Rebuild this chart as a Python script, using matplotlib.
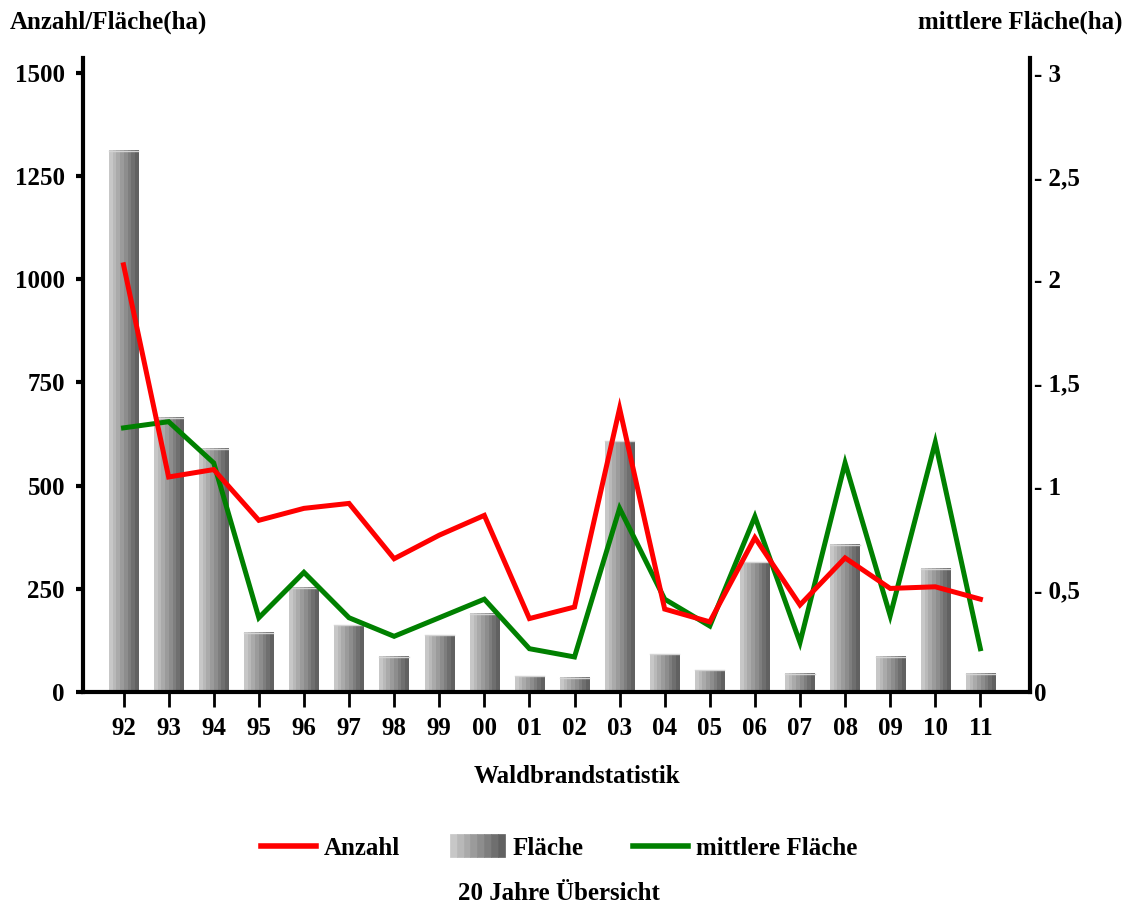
import numpy as np
import matplotlib
matplotlib.use('Agg')
import matplotlib.pyplot as plt
from matplotlib.patches import Rectangle
from matplotlib.lines import Line2D
from matplotlib.legend_handler import HandlerBase

# Waldbrandstatistik, 20 Jahre
years = ['92', '93', '94', '95', '96', '97', '98', '99', '00', '01',
         '02', '03', '04', '05', '06', '07', '08', '09', '10', '11']
flaeche = [1311, 665, 589, 143, 252, 162, 85, 138, 190, 38,
           34, 608, 91, 53, 314, 44, 357, 86, 299, 44]
anzahl = [1035, 521, 539, 416, 445, 457, 323, 380, 428, 178,
          206, 687, 201, 170, 374, 211, 325, 251, 255, 225]
mittlere = [1.28, 1.31, 1.11, 0.36, 0.58, 0.36, 0.27, 0.36, 0.45, 0.21,
            0.17, 0.89, 0.45, 0.32, 0.85, 0.24, 1.11, 0.37, 1.21, 0.21]

left_ticks = [0, 250, 500, 750, 1000, 1250, 1500]
right_ticks = [0, 0.5, 1, 1.5, 2, 2.5, 3]
right_labels = ['0', '- 0,5', '- 1', '- 1,5', '- 2', '- 2,5', '- 3']

plt.rcParams['font.family'] = 'Liberation Serif'
plt.rcParams['font.weight'] = 'bold'
FS = 18

# stepped gray gradient, light left -> dark right
grad = np.linspace(0.78, 0.38, 8).reshape(1, -1)

fig = plt.figure(figsize=(11.41, 9.07), dpi=100)
ax = fig.add_axes([0.0727, 0.2370, 0.8300, 0.6990])
x = np.arange(len(years))

bars = ax.bar(x, flaeche, width=0.65, color='none', edgecolor='none')
for r in bars:
    x0, w, h = r.get_x(), r.get_width(), r.get_height()
    ax.imshow(grad, cmap='gray', vmin=0, vmax=1, aspect='auto',
              interpolation='nearest', extent=(x0, x0 + w, 0, h), zorder=2)
    ax.plot([x0, x0 + w], [h, h], color='#d4d4d4', lw=1, zorder=2.5)

ax.set_xlim(-0.9, 20.1)
ax.set_ylim(0, 1536)
ax.set_xticks(x)
ax.set_xticklabels(years, fontsize=FS, fontweight='bold')
ax.set_yticks(left_ticks)
ax.set_yticklabels([str(v) for v in left_ticks], fontsize=FS, fontweight='bold')
ax.tick_params(axis='y', direction='out', length=5, width=3, pad=8)
ax.tick_params(axis='x', direction='out', length=11, width=2, pad=7)
for s in ['top', 'right']:
    ax.spines[s].set_visible(False)
for s in ['left', 'bottom']:
    ax.spines[s].set_linewidth(3)

# green line: mittlere Fläche on right axis
ax2 = ax.twinx()
ax2.set_ylim(0, 1536 / 500)
ax2.plot(x, mittlere, color='#008000', lw=3.6, solid_joinstyle='miter')
ax2.set_yticks(right_ticks)
ax2.set_yticklabels(right_labels, fontsize=FS, fontweight='bold')
ax2.tick_params(axis='y', length=0, pad=3)
for s in ['top', 'left', 'bottom']:
    ax2.spines[s].set_visible(False)
ax2.spines['right'].set_linewidth(3)

# red line: Anzahl on left scale, drawn on top
ax3 = ax.twinx()
ax3.set_ylim(ax.get_ylim())
ax3.plot(x, anzahl, color='#ff0000', lw=3.6, solid_joinstyle='miter')
ax3.axis('off')

fig.text(0.0088, 0.9757, 'Anzahl/Fläche(ha)', fontsize=FS, fontweight='bold',
         ha='left', va='center')
fig.text(0.9842, 0.9757, 'mittlere Fläche(ha)', fontsize=FS, fontweight='bold',
         ha='right', va='center')
fig.text(0.5057, 0.1444, 'Waldbrandstatistik', fontsize=FS, fontweight='bold',
         ha='center', va='center')
fig.text(0.4895, 0.0154, '20 Jahre Übersicht', fontsize=FS, fontweight='bold',
         ha='center', va='center')


class GradientHandler(HandlerBase):
    def create_artists(self, legend, orig_handle, xdescent, ydescent,
                       width, height, fontsize, trans):
        n = grad.shape[1]
        arts = []
        for i in range(n):
            c = str(grad[0, i])
            arts.append(Rectangle((-xdescent + i * width / n, -ydescent - 0.15 * height),
                                  width / n, height * 1.3, facecolor=c,
                                  edgecolor=c, lw=0.5, transform=trans))
        return arts


h_red = Line2D([], [], color='#ff0000', lw=4)
h_bar = Rectangle((0, 0), 1, 1)
h_green = Line2D([], [], color='#008000', lw=4)
fig.legend([h_red, h_bar, h_green], ['Anzahl', 'Fläche', 'mittlere Fläche'],
           handler_map={Rectangle: GradientHandler()},
           loc='center', bbox_to_anchor=(0.49, 0.065), ncol=3, frameon=False,
           prop={'size': FS, 'weight': 'bold'}, handlelength=2.2,
           handletextpad=0.3, columnspacing=2.0, handleheight=0.7)

fig.savefig('out.png', dpi=100)
